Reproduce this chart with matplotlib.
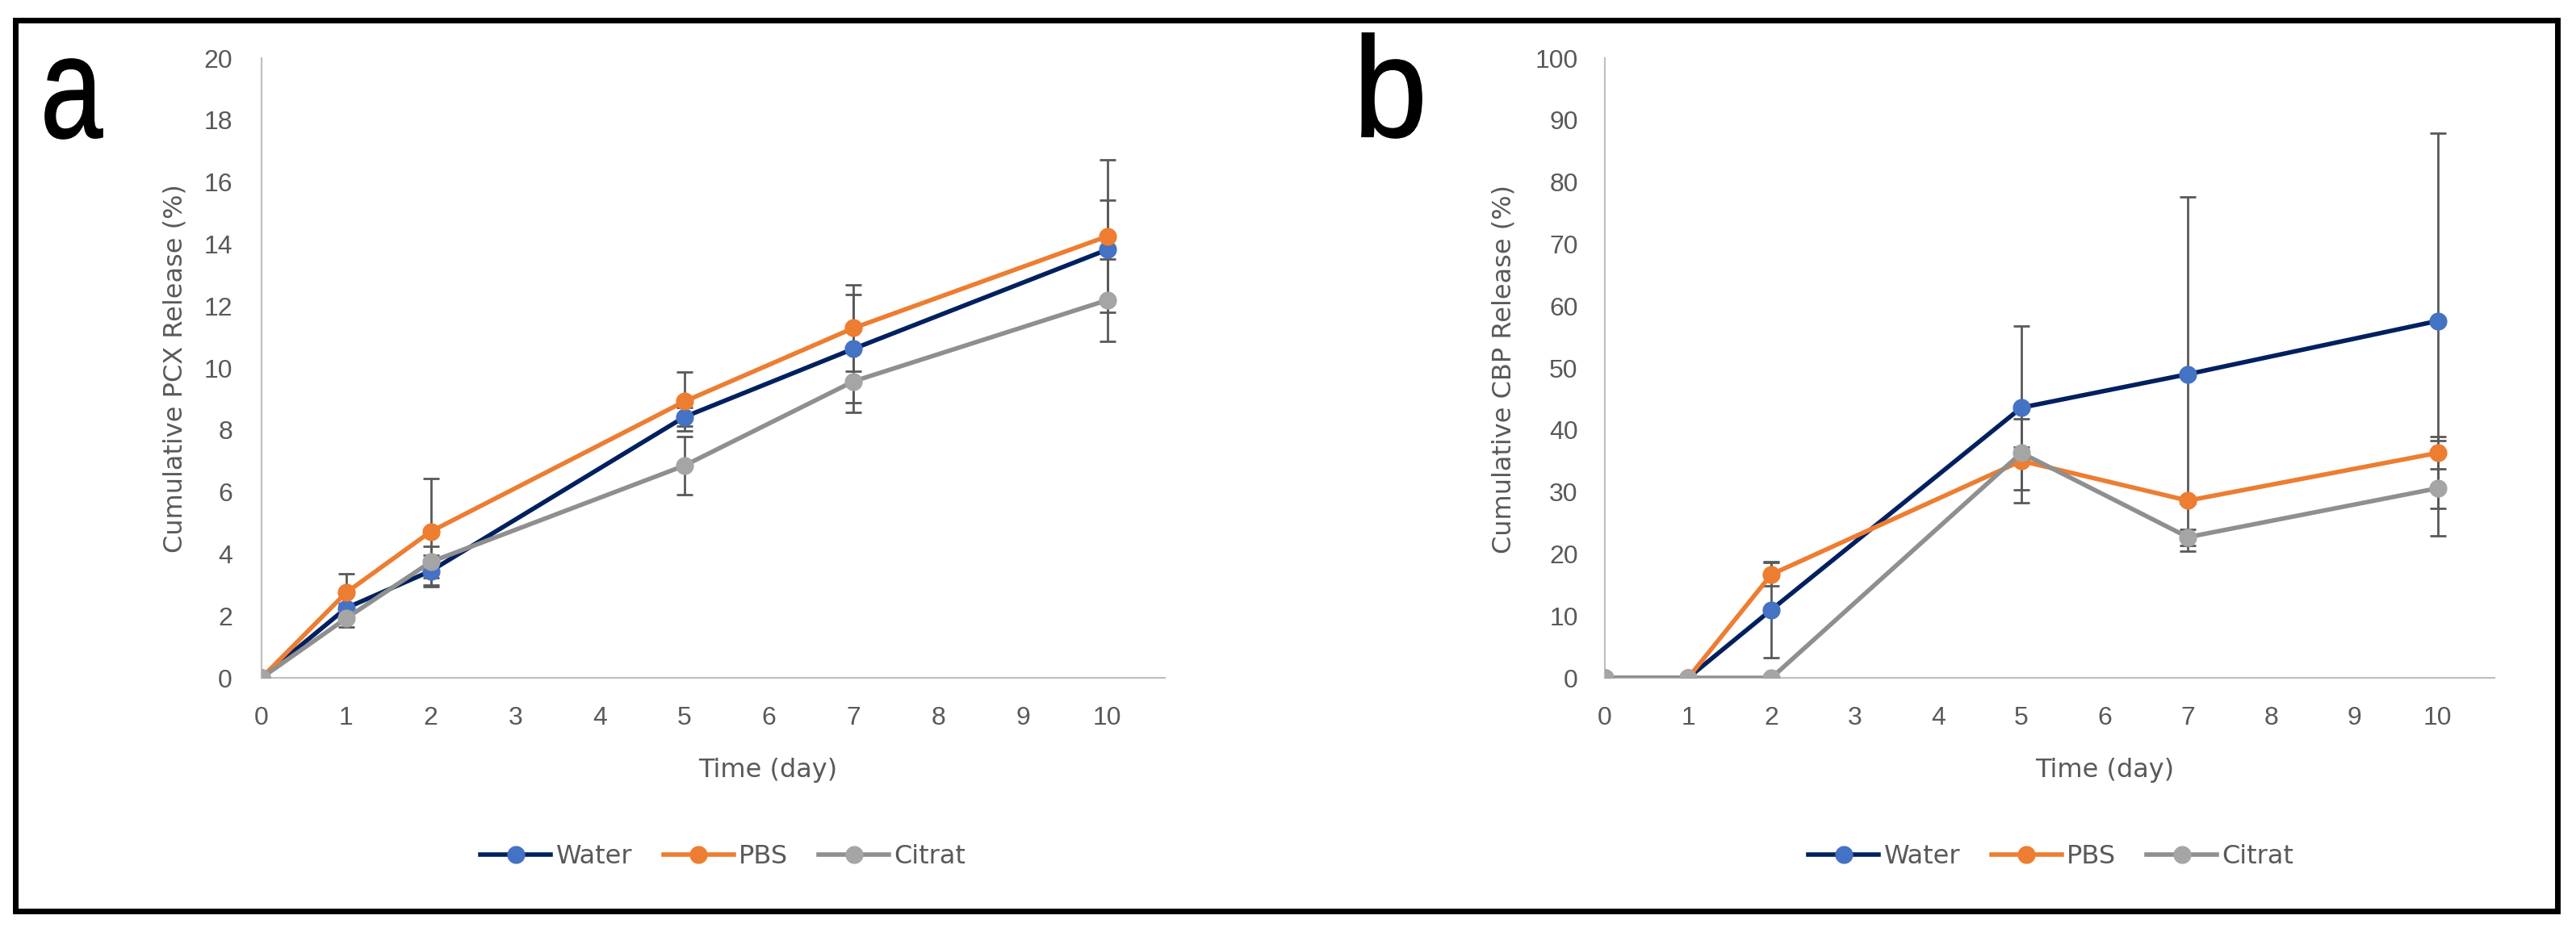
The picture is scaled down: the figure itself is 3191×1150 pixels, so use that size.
import numpy as np
import matplotlib
matplotlib.use("Agg")
import matplotlib.pyplot as plt
from matplotlib.textpath import TextPath
from matplotlib.patches import PathPatch, Rectangle
from matplotlib.transforms import Affine2D
from matplotlib.font_manager import FontProperties

# data
days = np.array([0, 1, 2, 5, 7, 10])
series_names = ["Water", "PBS", "Citrat"]

# panel a: PCX release (%)
pcx_water = np.array([0, 2.25, 3.45, 8.42, 10.62, 13.82])
pcx_water_err = np.array([0, 0.15, 0.5, 0.3, 1.75, 1.6])
pcx_pbs = np.array([0, 2.75, 4.72, 8.92, 11.29, 14.25])
pcx_pbs_err = np.array([0, 0.6, 1.72, 0.95, 1.4, 2.46])
pcx_citrat = np.array([0, 1.92, 3.74, 6.85, 9.57, 12.19])
pcx_citrat_err = np.array([0, 0.27, 0.5, 0.93, 1.0, 1.32])

# panel b: CBP release (%)
cbp_water = np.array([0, 0, 11.0, 43.6, 49.0, 57.6])
cbp_water_err = np.array([0, 0, 7.7, 13.2, 28.6, 30.3])
cbp_pbs = np.array([0, 0, 16.7, 35.0, 28.6, 36.3])
cbp_pbs_err = np.array([0, 0, 1.9, 6.8, 0.5, 2.6])
cbp_citrat = np.array([0, 0, 0, 36.3, 22.7, 30.6])
cbp_citrat_err = np.array([0, 0, 0, 1.0, 1.3, 7.7])

x_ticks = np.arange(0, 11, 1)
pcx_yticks = np.arange(0, 21, 2)
cbp_yticks = np.arange(0, 101, 10)

# styles
line_colors = ["#002060", "#ED7D31", "#8F8F8F"]
marker_colors = ["#4472C4", "#ED7D31", "#A5A5A5"]
text_color = "#595959"
err_color = "#595959"
axis_color = "#C0C0C0"
FS = 23

W, H = 3191, 1150
fig = plt.figure(figsize=(W / 100, H / 100), dpi=100)


def px_rect(left, right, top, bottom):
    return [left / W, (H - bottom) / H, (right - left) / W, (bottom - top) / H]


def draw_panel(ax, ys, errs, yticks, ylim, ypad):
    for y, e, lc, mc, name in zip(ys, errs, line_colors, marker_colors, series_names):
        m = e > 0
        ax.errorbar(days[m], y[m], yerr=e[m], fmt="none", ecolor=err_color,
                    elinewidth=2, capsize=7.5, capthick=2, zorder=2)
        ax.plot(days, y, color=lc, lw=4, marker="o", ms=15, mfc=mc, mec=mc,
                label=name, zorder=3)
    ax.set_xlim(0, 10.68)
    ax.set_ylim(*ylim)
    ax.set_xticks(x_ticks)
    ax.set_yticks(yticks)
    for s in ["top", "right"]:
        ax.spines[s].set_visible(False)
    for s in ["left", "bottom"]:
        ax.spines[s].set_color(axis_color)
        ax.spines[s].set_linewidth(1.6)
    ax.tick_params(length=0, labelsize=FS, labelcolor=text_color)
    ax.tick_params(axis="y", pad=ypad)
    ax.tick_params(axis="x", pad=25)
    for lbl in ax.get_xticklabels() + ax.get_yticklabels():
        lbl.set_fontfamily("Liberation Sans")


ax_a = fig.add_axes(px_rect(324, 1443, 72, 840))
draw_panel(ax_a, [pcx_water, pcx_pbs, pcx_citrat],
           [pcx_water_err, pcx_pbs_err, pcx_citrat_err], pcx_yticks, (0, 20), 26)

ax_b = fig.add_axes(px_rect(1988, 3090, 72, 840))
draw_panel(ax_b, [cbp_water, cbp_pbs, cbp_citrat],
           [cbp_water_err, cbp_pbs_err, cbp_citrat_err], cbp_yticks, (0, 100), 24)

# axis titles
fig.text(951 / W, 1 - 954 / H, "Time (day)", ha="center", va="center",
         fontsize=FS, color=text_color)
fig.text(2607 / W, 1 - 954 / H, "Time (day)", ha="center", va="center",
         fontsize=FS, color=text_color)
fig.text(217 / W, 1 - 457 / H, "Cumulative PCX Release (%)", rotation=90,
         ha="center", va="center", fontsize=FS, color=text_color)
fig.text(1863 / W, 1 - 457 / H, "Cumulative CBP Release (%)", rotation=90,
         ha="center", va="center", fontsize=FS, color=text_color)

# legends below each panel
for ax, cx in [(ax_a, 896), (ax_b, 2541)]:
    ax.legend(loc="center", bbox_to_anchor=(cx / W, 1 - 1062 / H),
              bbox_transform=fig.transFigure, ncol=3, frameon=False,
              fontsize=FS, labelcolor=text_color, handlelength=2.72,
              handletextpad=0.2, columnspacing=1.2)


# panel letters, fitted to their box in the reference
def panel_letter(s, left, top, right, bottom):
    tp = TextPath((0, 0), s, size=1, prop=FontProperties(family="Liberation Sans"))
    ext = tp.get_extents()
    sx = (right - left) / ext.width
    sy = (bottom - top) / ext.height
    tr = (Affine2D().translate(-ext.x0, -ext.y0).scale(sx / W, sy / H)
          .translate(left / W, (H - bottom) / H) + fig.transFigure)
    fig.patches.append(PathPatch(tp, transform=tr, facecolor="black",
                                 edgecolor="black", lw=1.2))


panel_letter("a", 56, 73, 127, 172)
panel_letter("b", 1687, 41, 1761, 171)

# outer black frame
fig.patches.append(Rectangle((18.5 / W, (H - 1128.5) / H), (3167.5 - 18.5) / W,
                             (1128.5 - 25) / H, transform=fig.transFigure,
                             fill=False, edgecolor="black", lw=5))

fig.savefig("out.png", dpi=100)
